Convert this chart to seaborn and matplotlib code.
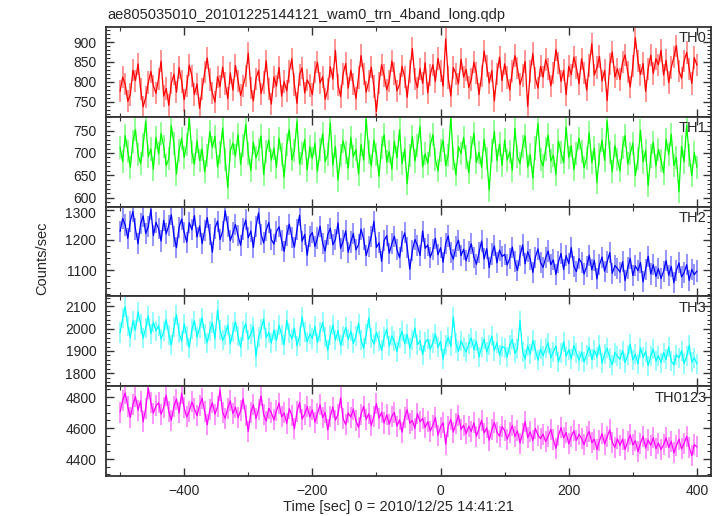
import matplotlib

matplotlib.use("Agg")
import matplotlib.pyplot as plt
import matplotlib.transforms as mtransforms
import numpy as np
import pandas as pd
import seaborn as sns
from matplotlib.ticker import MultipleLocator

TITLE = "ae805035010_20101225144121_wam0_trn_4band_long.qdp"
BANDS = ["TH0", "TH1", "TH2", "TH3", "TH0123"]

# count rates (4 s spacing, -500 .. 400 s)
th0 = [
    776, 812, 794, 751, 768, 829, 803, 845, 782, 737, 761, 798, 826, 790, 771,
    808, 852, 764, 783, 741, 797, 819, 774, 836, 801, 755, 789, 842, 815, 768,
    795, 733, 781, 824, 860, 806, 772, 749, 813, 788, 837, 796, 758, 822, 779,
    841, 803, 766, 790, 815, 872, 784, 752, 808, 829, 770, 798, 853, 781, 744,
    812, 789, 836, 764, 801, 777, 826, 858, 793, 746, 818, 835, 772, 805, 791,
    768, 824, 849, 797, 813, 756, 781, 838, 807, 879, 792, 763, 820, 846, 784,
    829, 795, 758, 811, 866, 819, 774, 802, 837, 788, 725, 797, 843, 816, 780,
    803, 852, 821, 777, 794, 839, 812, 761, 826, 884, 808, 785, 833, 796, 848,
    772, 818, 843, 801, 859, 827, 789, 908, 811, 764, 836, 820, 795, 857, 812,
    831, 786, 806, 849, 822, 768, 815, 877, 840, 797, 828, 752, 819, 862, 803,
    845, 811, 779, 828, 866, 834, 793, 816, 851, 738, 826, 871, 809, 784, 839,
    812, 856, 833, 790, 822, 881, 847, 801, 829, 768, 839, 818, 862, 836, 795,
    858, 823, 779, 841, 896, 817, 836, 864, 802, 829, 753, 844, 875, 812, 833,
    806, 849, 868, 825, 787, 839, 911, 852, 818, 846, 776, 833, 867, 821, 858,
    843, 879, 817, 854, 798, 836, 862, 891, 828, 809, 852, 874, 833, 796, 861,
    842,
]
th1 = [
    712, 681, 739, 704, 668, 726, 752, 697, 676, 718, 771, 692, 709, 664, 735,
    698, 744, 715, 672, 687, 761, 721, 653, 706, 733, 690, 719, 777, 701, 675,
    727, 683, 709, 658, 694, 748, 712, 737, 669, 701, 756, 686, 623, 705, 722,
    693, 741, 675, 716, 764, 698, 661, 724, 689, 707, 738, 652, 703, 729, 684,
    711, 668, 733, 697, 646, 719, 752, 685, 706, 771, 676, 699, 730, 662, 714,
    688, 722, 659, 707, 743, 681, 696, 768, 673, 715, 639, 694, 727, 701, 666,
    735, 692, 708, 653, 719, 684, 776, 702, 671, 729, 697, 648, 713, 741, 680,
    703, 664, 726, 689, 752, 676, 709, 631, 694, 737, 682, 716, 759, 669, 698,
    677, 718, 741, 685, 660, 706, 728, 672, 694, 779, 688, 651, 714, 699, 735,
    691, 656, 712, 744, 679, 701, 668, 731, 687, 617, 706, 748, 683, 720, 672,
    729, 684, 703, 661, 755, 692, 676, 714, 738, 669, 697, 644, 711, 766, 686,
    671, 709, 740, 682, 695, 652, 727, 701, 678, 758, 690, 716, 663, 699, 733,
    704, 667, 689, 745, 678, 711, 634, 696, 729, 683, 772, 701, 658, 717, 686,
    660, 713, 739, 676, 698, 722, 649, 687, 751, 680, 706, 627, 693, 724, 671,
    708, 684, 655, 731, 697, 742, 672, 690, 613, 715, 680, 762, 694, 649, 701,
    668,
]
th2 = [
    1228, 1271, 1249, 1205, 1262, 1294, 1236, 1187, 1253, 1279, 1221, 1243, 1301, 1214, 1258,
    1237, 1196, 1265, 1220, 1248, 1283, 1212, 1174, 1241, 1269, 1225, 1192, 1257, 1233, 1280,
    1209, 1246, 1188, 1231, 1273, 1217, 1159, 1238, 1262, 1201, 1229, 1296, 1244, 1198, 1223,
    1251, 1214, 1182, 1236, 1266, 1207, 1229, 1175, 1243, 1289, 1219, 1190, 1232, 1258, 1201,
    1186, 1227, 1243, 1198, 1162, 1215, 1252, 1209, 1176, 1234, 1281, 1195, 1218, 1149, 1211,
    1224, 1178, 1206, 1245, 1189, 1163, 1217, 1238, 1184, 1201, 1256, 1172, 1196, 1230, 1159,
    1193, 1221, 1167, 1184, 1236, 1203, 1148, 1179, 1211, 1261, 1175, 1190, 1129, 1198, 1214,
    1156, 1187, 1212, 1169, 1141, 1195, 1223, 1176, 1103, 1164, 1201, 1181, 1148, 1229, 1172,
    1183, 1142, 1167, 1205, 1151, 1174, 1126, 1188, 1213, 1157, 1136, 1178, 1199, 1148, 1169,
    1131, 1162, 1187, 1143, 1119, 1158, 1196, 1137, 1171, 1108, 1153, 1180, 1124, 1166, 1145,
    1152, 1117, 1139, 1176, 1128, 1099, 1147, 1183, 1121, 1161, 1136, 1092, 1143, 1170, 1125,
    1109, 1141, 1163, 1118, 1134, 1086, 1127, 1155, 1102, 1148, 1121, 1174, 1113, 1095, 1138,
    1124, 1087, 1112, 1149, 1101, 1132, 1071, 1118, 1143, 1096, 1127, 1158, 1089, 1115, 1106,
    1093, 1128, 1065, 1107, 1139, 1082, 1114, 1098, 1125, 1061, 1103, 1146, 1087, 1118, 1079,
    1105, 1072, 1096, 1131, 1083, 1112, 1058, 1099, 1124, 1077, 1091, 1118, 1066, 1102, 1085,
    1097,
]
th3 = [
    1983, 2047, 2098, 2012, 1961, 2035, 1994, 2076, 2021, 1957, 2003, 2058, 1978, 2029, 1991,
    2014, 1953, 1988, 2041, 1972, 1926, 2006, 2063, 1981, 1944, 2022, 1967, 1915, 1998, 2036,
    1962, 2004, 2049, 1977, 1938, 1991, 2027, 1954, 2083, 1996, 1948, 1972, 2018, 1931, 1985,
    2031, 1968, 1917, 1989, 2024, 1951, 1978, 2009, 1874, 1962, 1997, 2043, 1959, 1983, 1936,
    1994, 1947, 2016, 1972, 1929, 2038, 1981, 1955, 2002, 1924, 1967, 2054, 1986, 1941, 1978,
    1956, 2011, 1938, 1985, 2029, 1963, 1904, 1971, 2017, 1948, 1992, 1925, 1966, 2006, 1952,
    1989, 1934, 1967, 2023, 1949, 1912, 1976, 2048, 1958, 1931, 1984, 1945, 1903, 1962, 1997,
    1921, 1968, 1943, 1896, 1957, 1989, 1932, 1975, 1912, 1951, 2003, 1928, 1947, 1884, 1939,
    1952, 1908, 1937, 1977, 1916, 1943, 1863, 1929, 1961, 1921, 2052, 1934, 1898, 1945, 1917,
    1896, 1932, 1958, 1907, 1944, 1873, 1919, 1952, 1895, 1928, 1966, 1902, 1937, 1881, 1920,
    1915, 1873, 1928, 1952, 1889, 1911, 2036, 1897, 1864, 1923, 1886, 1947, 1905, 1858, 1909,
    1878, 1912, 1936, 1869, 1897, 1923, 1851, 1889, 1941, 1876, 1906, 1865, 1924, 1892, 1857,
    1896, 1851, 1883, 1918, 1862, 1904, 1873, 1927, 1845, 1887, 1912, 1868, 1839, 1893, 1876,
    1863, 1902, 1848, 1881, 1931, 1859, 1886, 1842, 1914, 1871, 1897, 1834, 1879, 1908, 1855,
    1879, 1847, 1893, 1862, 1917, 1855, 1838, 1883, 1869, 1901, 1844, 1876, 1925, 1851, 1870,
    1842,
]
th0123 = [
    4704, 4781, 4826, 4738, 4669, 4752, 4803, 4716, 4775, 4641, 4728, 4859, 4764, 4697, 4745,
    4763, 4689, 4734, 4812, 4706, 4651, 4742, 4788, 4698, 4825, 4731, 4672, 4709, 4769, 4724,
    4681, 4747, 4793, 4705, 4622, 4718, 4764, 4690, 4738, 4846, 4701, 4663, 4729, 4776, 4694,
    4736, 4667, 4713, 4789, 4684, 4579, 4702, 4751, 4660, 4721, 4808, 4688, 4645, 4727, 4699,
    4653, 4712, 4761, 4674, 4698, 4630, 4725, 4682, 4596, 4705, 4767, 4658, 4691, 4739, 4672,
    4718, 4639, 4694, 4751, 4667, 4701, 4588, 4676, 4736, 4652, 4689, 4795, 4661, 4623, 4698,
    4671, 4722, 4648, 4605, 4689, 4741, 4656, 4693, 4617, 4678, 4758, 4664, 4702, 4633, 4686,
    4625, 4677, 4701, 4612, 4654, 4573, 4668, 4719, 4631, 4649, 4598, 4693, 4641, 4662, 4604,
    4642, 4581, 4619, 4668, 4553, 4607, 4634, 4497, 4612, 4656, 4574, 4629, 4683, 4591, 4618,
    4563, 4612, 4578, 4634, 4547, 4596, 4651, 4568, 4602, 4521, 4589, 4637, 4574, 4548, 4609,
    4583, 4529, 4571, 4617, 4546, 4582, 4503, 4567, 4643, 4538, 4576, 4519, 4598, 4554, 4532,
    4561, 4512, 4548, 4591, 4527, 4469, 4553, 4603, 4536, 4571, 4498, 4547, 4582, 4521, 4559,
    4534, 4493, 4547, 4578, 4505, 4529, 4461, 4518, 4564, 4497, 4543, 4589, 4508, 4476, 4531,
    4487, 4529, 4462, 4513, 4556, 4491, 4518, 4448, 4502, 4547, 4471, 4523, 4489, 4538, 4467,
    4503, 4461, 4492, 4537, 4474, 4515, 4439, 4486, 4528, 4465, 4499, 4547, 4476, 4421, 4493,
    4478,
]
# 1-sigma errors per band (counts/sec)
errors = [28, 26, 35, 45, 68]

TIME_START = -500
TIME_END = 400


def main():
    sns.set_theme(style="ticks")
    plt.rcParams["font.family"] = ["Liberation Sans", "DejaVu Sans"]
    plt.rcParams["font.size"] = 10

    series = [th0, th1, th2, th3, th0123]
    colors = ["#ff0000", "#00ff00", "#0000ff", "#00ffff", "#ff00ff"]
    ylims = [(712, 938), (580, 781), (1013, 1310), (1742, 2145), (4290, 4871)]
    majors = [50, 50, 100, 100, 200]
    minors = [10, 10, 20, 20, 50]

    figure = plt.figure(figsize=(7.23, 5.16), dpi=100)
    grid = figure.add_gridspec(
        5, 1, left=0.1466, right=0.9834, bottom=0.0775, top=0.9477, hspace=0
    )
    axes = [figure.add_subplot(grid[i, 0]) for i in range(5)]

    for i, axis in enumerate(axes):
        values = np.array(series[i], dtype=float)
        times = np.linspace(TIME_START, TIME_END, len(values))
        frame = pd.DataFrame({"time": times, "rate": values})
        axis.vlines(
            frame["time"], frame["rate"] - errors[i], frame["rate"] + errors[i],
            color=colors[i], alpha=0.45, linewidth=1.3,
        )
        sns.lineplot(
            data=frame, x="time", y="rate", ax=axis, color=colors[i],
            linewidth=0.9, estimator=None, legend=False,
        )
        axis.set_xlim(-522, 422)
        axis.set_ylim(*ylims[i])
        axis.xaxis.set_major_locator(MultipleLocator(200))
        axis.xaxis.set_minor_locator(MultipleLocator(100))
        axis.yaxis.set_major_locator(MultipleLocator(majors[i]))
        axis.yaxis.set_minor_locator(MultipleLocator(minors[i]))
        axis.tick_params(which="both", direction="in", top=True, right=True,
                         color="#333333", labelsize=10)
        axis.tick_params(axis="y", which="major", pad=7)
        axis.tick_params(axis="x", which="major", pad=6)
        axis.tick_params(which="major", length=6, width=1.0)
        axis.tick_params(which="minor", length=3, width=0.8)
        axis.set_xlabel("")
        axis.set_ylabel("")
        for spine in axis.spines.values():
            spine.set_color("#333333")
            spine.set_linewidth(1.3)
        if i < 4:
            axis.tick_params(labelbottom=False)
        axis.text(0.993, 0.95, BANDS[i], transform=axis.transAxes,
                  ha="right", va="top", fontsize=10.5)
        ticks = [t for t in axis.get_yticks() if ylims[i][0] <= t <= ylims[i][1]]
        axis.set_yticks(ticks)

    # the 1300 label sits a little below its tick, clear of the 600 above
    top_label = axes[2].get_yticklabels()[-1]
    shift = mtransforms.ScaledTranslation(0, -0.025, figure.dpi_scale_trans)
    top_label.set_transform(top_label.get_transform() + shift)

    figure.text(0.148, 0.971, TITLE, ha="left", va="center", fontsize=10.5)
    figure.text(0.058, 0.5, "Counts/sec", rotation=90, ha="center",
                va="center", fontsize=10.5)
    figure.text(0.551, 0.017, "Time [sec] 0 = 2010/12/25 14:41:21",
                ha="center", va="center", fontsize=10.5)

    figure.savefig("out.png", dpi=100)
    plt.close(figure)


if __name__ == "__main__":
    main()
